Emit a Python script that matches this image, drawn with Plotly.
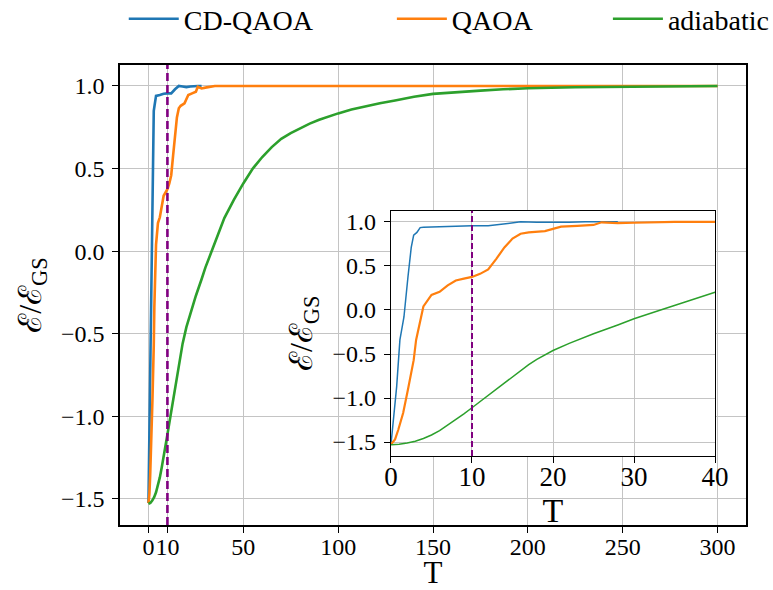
import plotly.graph_objects as go

# ---------------- data ----------------
T_cd = [0, 0.4, 0.7, 1.1, 1.6, 2.1, 2.5, 2.8, 3.2, 3.6, 4, 6, 8, 10, 12, 14, 16, 18, 20, 22, 24, 26, 28]
E_cd = [-1.525, -1.17, -0.87, -0.34, -0.08, 0.38, 0.71, 0.85, 0.88, 0.935, 0.94, 0.945, 0.953, 0.955,
        0.955, 0.98, 1.0, 0.997, 0.993, 0.997, 1.0, 1.0, 1.0]

T_q = [0, 0.5, 0.9, 1.5, 2.1, 2.8, 3.1, 4, 5, 6, 7, 8, 9, 10, 11, 12, 13, 14, 15, 16,
       17, 19, 20, 21, 23, 25, 26, 27, 28, 30, 35, 40, 50, 60, 80, 100, 150, 200, 250, 300]
E_q = [-1.525, -1.47, -1.36, -1.17, -0.90, -0.57, -0.34, 0.04, 0.17, 0.205, 0.28, 0.335, 0.355, 0.375,
       0.41, 0.46, 0.58, 0.71, 0.81, 0.865, 0.88, 0.895, 0.92, 0.945, 0.955, 0.965, 0.995, 0.992,
       0.985, 0.99, 1.0, 1.0, 1.0, 1.0, 1.0, 1.0, 1.0, 1.0, 1.0, 1.0]

T_ad = [0, 1, 2, 3, 4, 5, 6, 7, 8, 9, 10, 11, 12, 13, 14, 15, 16, 17, 18, 20, 22, 25, 28, 30, 33,
        36, 40, 45, 50, 55, 60, 65, 70, 75, 80, 85, 90, 95, 100, 107, 115, 122, 130, 140, 150,
        162, 175, 187, 200, 225, 250, 275, 300]
E_ad = [-1.53, -1.525, -1.51, -1.49, -1.46, -1.42, -1.37, -1.31, -1.25, -1.18, -1.11, -1.04, -0.97,
        -0.895, -0.82, -0.75, -0.68, -0.62, -0.56, -0.46, -0.38, -0.27, -0.17, -0.10, -0.01,
        0.08, 0.20, 0.31, 0.41, 0.50, 0.57, 0.63, 0.68, 0.715, 0.745, 0.772, 0.795, 0.816, 0.834,
        0.857, 0.878, 0.895, 0.912, 0.935, 0.952, 0.963, 0.972, 0.98, 0.986, 0.992, 0.996, 0.998, 1.0]

T_MARK = 10
main_xticks = [0, 10, 50, 100, 150, 200, 250, 300]
inset_xticks = [0, 10, 20, 30, 40]
yticks = [-1.5, -1.0, -0.5, 0.0, 0.5, 1.0]
names = ["CD-QAOA", "QAOA", "adiabatic"]

BLUE, ORANGE, GREEN, PURPLE = "#1f77b4", "#ff7f0e", "#2ca02c", "#800080"
FONT = "'Liberation Serif', 'DejaVu Serif', serif"
GRID = "#c4c4c4"
YTITLE = "ℰ/ℰ<sub>GS</sub>"

series = [(T_cd, E_cd, BLUE, 1.5), (T_q, E_q, ORANGE, 2.2), (T_ad, E_ad, GREEN, 1.5)]
legends = ["legend", "legend2", "legend3"]

fig = go.Figure()
for (tx, ey, col, iw), nm, lg in zip(series, names, legends):
    fig.add_trace(go.Scatter(x=tx, y=ey, mode="lines", name=nm, legend=lg,
                             line=dict(color=col, width=2.6),
                             xaxis="x", yaxis="y"))
for (tx, ey, col, iw), nm in zip(series, names):
    fig.add_trace(go.Scatter(x=tx, y=ey, mode="lines", name=nm, showlegend=False,
                             line=dict(color=col, width=iw),
                             xaxis="x2", yaxis="y2"))

# inset white background (hides main grid)
fig.add_shape(type="rect", xref="x2 domain", yref="y2 domain", x0=0, x1=1, y0=0, y1=1,
              fillcolor="white", line=dict(width=0), layer="below")
# vertical dashed marker lines
fig.add_shape(type="line", xref="x", yref="y domain", x0=T_MARK, x1=T_MARK, y0=0, y1=1,
              line=dict(color=PURPLE, width=2.6, dash="8px,4px"))
fig.add_shape(type="line", xref="x2", yref="y2 domain", x0=T_MARK, x1=T_MARK, y0=0, y1=1,
              line=dict(color=PURPLE, width=2.0, dash="6px,3px"))

axis_common = dict(showgrid=True, gridcolor=GRID, gridwidth=1.3, zeroline=False,
                   showline=True, mirror=True, linecolor="black", linewidth=1.5,
                   ticks="outside", ticklen=6, tickwidth=1.2, tickcolor="black",
                   tickangle=0, automargin=True)

YR = [-1.658, 1.127]
fig.update_layout(
    width=773, height=590,
    margin=dict(l=120, r=27, t=65, b=65, autoexpand=False),
    paper_bgcolor="white", plot_bgcolor="white",
    font=dict(family=FONT, color="black"),
    xaxis=dict(axis_common, range=[-15, 315], tickvals=main_xticks, ticklabelstandoff=-7,
               tickfont=dict(size=24, family=FONT),
               title=dict(text="T", font=dict(size=31, family=FONT), standoff=3)),
    yaxis=dict(axis_common, range=YR, tickvals=yticks, tickformat=".1f", ticklabelstandoff=3,
               tickfont=dict(size=24, family=FONT),
               title=dict(text=YTITLE, font=dict(size=32, family=FONT), standoff=10)),
    xaxis2=dict(axis_common, domain=[0.4329, 0.9505], anchor="y2", range=[0, 40],
                tickvals=inset_xticks, tickfont=dict(size=27, family=FONT), linewidth=1.3,
                ticklabelstandoff=-10,
                title=dict(text="T", font=dict(size=34, family=FONT), standoff=0)),
    yaxis2=dict(axis_common, domain=[0.15, 0.6833], anchor="x2", range=YR,
                tickvals=yticks, tickformat=".1f", tickfont=dict(size=24, family=FONT),
                linewidth=1.3, ticklabelstandoff=3,
                title=dict(text=YTITLE, font=dict(size=32, family=FONT), standoff=10)),
)
leg_common = dict(orientation="h", yanchor="middle", y=1.1, xanchor="left",
                  font=dict(size=28, family=FONT), bgcolor="rgba(0,0,0,0)", itemwidth=50)
fig.update_layout(
    legend=dict(leg_common, x=0.006),
    legend2=dict(leg_common, x=0.4343),
    legend3=dict(leg_common, x=0.7794),
)

fig.write_html("out.html")
